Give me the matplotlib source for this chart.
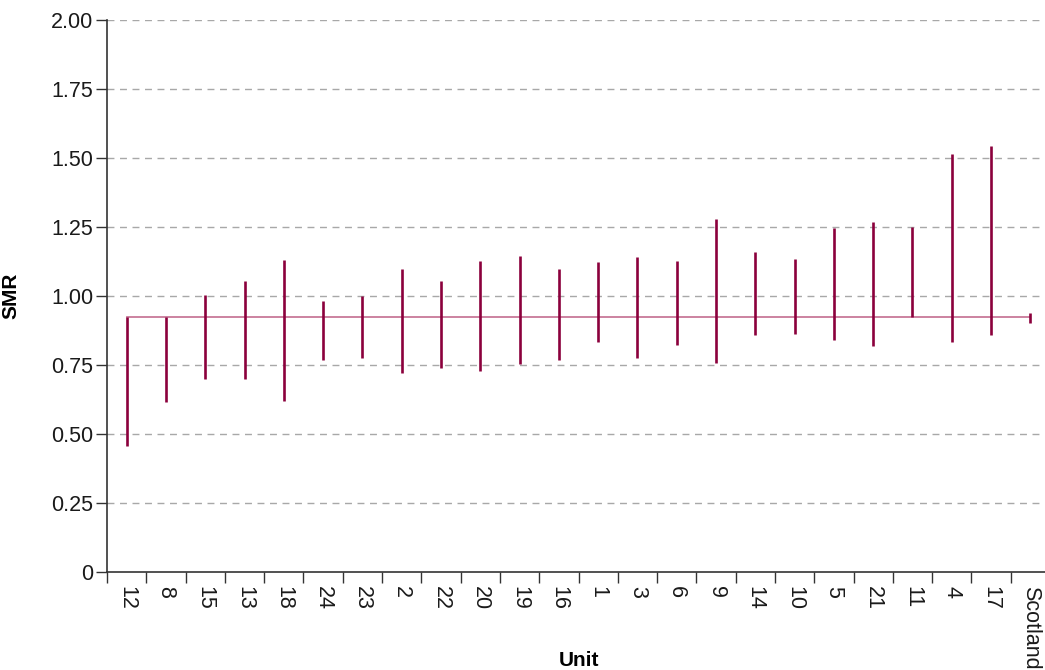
import numpy as np
import matplotlib
matplotlib.use("Agg")
import matplotlib.pyplot as plt

plt.rcParams['font.family'] = ['Liberation Sans', 'DejaVu Sans']

units = ["12", "8", "15", "13", "18", "24", "23", "2", "22", "20", "19", "16",
         "1", "3", "6", "9", "14", "10", "5", "21", "11", "4", "17", "Scotland"]
lower = [0.458, 0.617, 0.699, 0.699, 0.621, 0.768, 0.774, 0.721, 0.740, 0.727, 0.752, 0.769,
         0.834, 0.774, 0.822, 0.756, 0.857, 0.864, 0.839, 0.820, 0.925, 0.832, 0.857, 0.901]
upper = [0.925, 0.925, 1.003, 1.054, 1.129, 0.981, 1.001, 1.099, 1.054, 1.126, 1.144, 1.099,
         1.122, 1.141, 1.126, 1.279, 1.159, 1.135, 1.248, 1.269, 1.250, 1.516, 1.545, 0.938]
scotland_smr = 0.925

bar_color = "#8b003c"
line_color = "#c87898"

fig = plt.figure(figsize=(10.45, 6.7), dpi=100)
ax = fig.add_axes([0.1024, 0.1463, 0.9024, 0.8239])

x = np.arange(len(units))
ax.plot([x[0], x[-1]], [scotland_smr, scotland_smr], color=line_color, lw=1.3, zorder=2)
ax.vlines(x, lower, upper, color=bar_color, lw=1.9, zorder=3)

ax.set_xlim(-0.5, len(units) - 0.5)
ax.set_ylim(0, 2.0)

yticks = np.arange(0, 2.01, 0.25)
ax.set_yticks(yticks)
ax.set_yticklabels(["0" if v == 0 else f"{v:.2f}" for v in yticks])
for v in yticks[1:]:
    ax.axhline(v, color="#a8a8a8", lw=1, ls=(0, (5, 4)), zorder=1)

ax.set_xticks(x)
ax.set_xticklabels(units, rotation=-90, va="top", ha="center")
ax.set_xticks(np.arange(len(units) + 1) - 0.5, minor=True)
ax.tick_params(axis="x", which="major", length=0, pad=10, labelsize=15.5, colors="#1a1a1a")
ax.tick_params(axis="x", which="minor", length=8, width=1, color="#333333")
ax.tick_params(axis="y", length=8, width=1, color="#333333", labelsize=15.5,
               labelcolor="#1a1a1a", pad=2)

for s in ["top", "right"]:
    ax.spines[s].set_visible(False)
for s in ["left", "bottom"]:
    ax.spines[s].set_color("#333333")
    ax.spines[s].set_linewidth(1.2)

ax.set_ylabel("SMR", fontsize=15, fontweight="bold")
ax.set_xlabel("Unit", fontsize=15, fontweight="bold")
ax.yaxis.set_label_coords(-0.092, 0.5)
ax.xaxis.set_label_coords(0.5, -0.143)

fig.savefig("out.png", dpi=100)
